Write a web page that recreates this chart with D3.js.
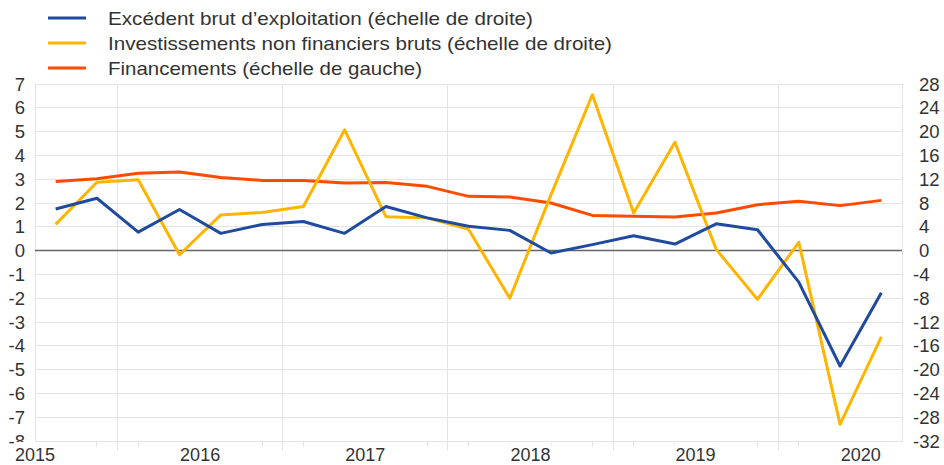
<!DOCTYPE html>
<html>
<head>
<meta charset="utf-8">
<script src="https://cdn.jsdelivr.net/npm/d3@7"></script>
<style>
  html, body { margin: 0; padding: 0; background: #fff; }
  svg { display: block; font-family: "Liberation Sans", Arial, sans-serif; }
</style>
</head>
<body>
<svg id="chart" width="944" height="465"></svg>
<script>
// ---- data ----
const quarters = ["2015Q3","2015Q4",
  "2016Q1","2016Q2","2016Q3","2016Q4",
  "2017Q1","2017Q2","2017Q3","2017Q4",
  "2018Q1","2018Q2","2018Q3","2018Q4",
  "2019Q1","2019Q2","2019Q3","2019Q4",
  "2020Q1","2020Q2","2020Q3"];
// right scale
const excedentBrut = [7.0, 8.8, 3.1, 6.9, 2.9, 4.4, 4.9, 2.9, 7.4, 5.5, 4.1, 3.4, -0.4, 1.0, 2.5, 1.1, 4.5, 3.5, -5.3, -19.4, -7.1];
const investissements = [4.4, 11.5, 11.9, -0.7, 6.0, 6.4, 7.4, 20.3, 5.7, 5.5, 3.6, -8.0, 9.4, 26.2, 6.3, 18.2, 0.2, -8.2, 1.4, -29.2, -14.5];
// left scale
const financements = [2.90, 3.02, 3.25, 3.30, 3.07, 2.95, 2.95, 2.84, 2.86, 2.70, 2.28, 2.25, 2.00, 1.48, 1.44, 1.41, 1.58, 1.93, 2.07, 1.89, 2.11];
const years = ["2015","2016","2017","2018","2019","2020"];
const leftTicks = [-8,-7,-6,-5,-4,-3,-2,-1,0,1,2,3,4,5,6,7];
const rightTicks = [-32,-28,-24,-20,-16,-12,-8,-4,0,4,8,12,16,20,24,28];
const legendLabels = [
  "Excédent brut d\u2019exploitation (échelle de droite)",
  "Investissements non financiers bruts (échelle de droite)",
  "Financements (échelle de gauche)"
];

// ---- layout ----
const L = 35, R = 902, T = 84, B = 441;
const colors = ["#1f4a9e", "#ffb400", "#ff4b00"];
const textColor = "#333";
const gridColor = "#e4e4e4";

const svg = d3.select("#chart");
const x = d3.scaleLinear().domain([-0.5, quarters.length - 0.5]).range([L, R]);
const yL = d3.scaleLinear().domain([-8, 7]).range([B, T]);
const yR = d3.scaleLinear().domain([-32, 28]).range([B, T]);

const yearOf = q => q.slice(0, 4);
const firstIdx = {};
quarters.forEach((q, i) => { const y = yearOf(q); if (!(y in firstIdx)) firstIdx[y] = i - (+q.slice(5) - 1); });

// horizontal grid
svg.append("g").selectAll("line").data(leftTicks).join("line")
  .attr("x1", L).attr("x2", R)
  .attr("y1", d => yL(d)).attr("y2", d => yL(d))
  .attr("stroke", gridColor).attr("stroke-width", 1)
  .attr("shape-rendering", "crispEdges");

// vertical year boundaries
const boundaries = years.slice(1).map(y => firstIdx[y] - 0.5);
svg.append("g").selectAll("line").data(boundaries).join("line")
  .attr("x1", d => x(d)).attr("x2", d => x(d))
  .attr("y1", T).attr("y2", B + 10)
  .attr("stroke", gridColor).attr("stroke-width", 1)
  .attr("shape-rendering", "crispEdges");

// quarter minor ticks
svg.append("g").selectAll("line").data(quarters).join("line")
  .attr("x1", (d, i) => x(i)).attr("x2", (d, i) => x(i))
  .attr("y1", B).attr("y2", B + 6)
  .attr("stroke", gridColor).attr("stroke-width", 1)
  .attr("shape-rendering", "crispEdges");

// plot border
svg.append("rect").attr("x", L).attr("y", T).attr("width", R - L).attr("height", B - T)
  .attr("fill", "none").attr("stroke", gridColor).attr("shape-rendering", "crispEdges");

// zero line
svg.append("line").attr("x1", L).attr("x2", R).attr("y1", yL(0)).attr("y2", yL(0))
  .attr("stroke", "#666").attr("stroke-width", 1.5);

// lines
const lineR = d3.line().x((d, i) => x(i)).y(d => yR(d));
const lineL = d3.line().x((d, i) => x(i)).y(d => yL(d));
const series = [
  { data: excedentBrut, gen: lineR, color: colors[0] },
  { data: investissements, gen: lineR, color: colors[1] },
  { data: financements, gen: lineL, color: colors[2] }
];
[series[2], series[1], series[0]].forEach(s => {
  svg.append("path").attr("d", s.gen(s.data))
    .attr("fill", "none").attr("stroke", s.color).attr("stroke-width", 3)
    .attr("stroke-linejoin", "round");
});

// left axis labels
svg.append("g").selectAll("text").data(leftTicks).join("text")
  .attr("x", 25).attr("y", d => yL(d)).attr("dy", "0.36em")
  .attr("text-anchor", "end").attr("font-size", 18.5).attr("fill", textColor)
  .text(d => d);

// right axis labels
svg.append("g").selectAll("text").data(rightTicks).join("text")
  .attr("x", d => d < 0 ? 913 : 919).attr("y", d => yR(d)).attr("dy", "0.36em")
  .attr("text-anchor", "start").attr("font-size", 18.5).attr("fill", textColor)
  .text(d => d);

// year labels (centered on the year's four quarters)
const yl = svg.append("g");
years.forEach(y => {
  const cx = x(firstIdx[y] + 1.5);
  yl.append("rect").attr("x", cx - 21).attr("y", B + 1).attr("width", 42).attr("height", 8).attr("fill", "#fff");
  yl.append("text").attr("x", cx).attr("y", 461)
    .attr("text-anchor", "middle").attr("font-size", 18).attr("fill", textColor)
    .text(y);
});

// legend
const legendW = [425, 504, 314];
const lg = svg.append("g");
legendLabels.forEach((lab, i) => {
  const cy = 18 + i * 25;
  lg.append("line").attr("x1", 48).attr("x2", 86).attr("y1", cy).attr("y2", cy)
    .attr("stroke", colors[i]).attr("stroke-width", 3);
  lg.append("text").attr("x", 108).attr("y", cy + 7)
    .attr("font-size", 19).attr("fill", textColor)
    .attr("textLength", legendW[i]).attr("lengthAdjust", "spacingAndGlyphs")
    .text(lab);
});
</script>
</body>
</html>
